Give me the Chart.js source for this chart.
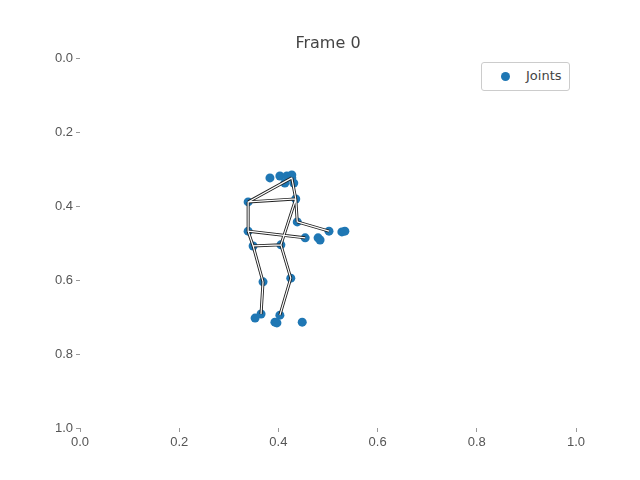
<!DOCTYPE html>
<html><head><meta charset="utf-8">
<script src="https://cdn.jsdelivr.net/npm/chart.js@4/dist/chart.umd.min.js"></script>
<style>
body{margin:0;background:#fff;font-family:"DejaVu Sans",sans-serif}
#wrap{position:relative;width:640px;height:480px}
#title{position:absolute;top:33px;left:0;width:656px;text-align:center;font-size:16px;color:#444}
#leg{position:absolute;left:481px;top:62px;width:87px;height:27px;border:1px solid #ccc;border-radius:3px;background:#fff;font-size:13px;color:#444}
#leg span.dot{position:absolute;left:19px;top:9px;width:9px;height:9px;border-radius:50%;background:#1f77b4}
#leg span.t{position:absolute;left:44px;top:5px}
</style></head><body>
<div id="wrap"><canvas id="c" width="640" height="480"></canvas>
<div id="title">Frame 0</div>
<div id="leg"><span class="dot"></span><span class="t">Joints</span></div></div>
<script>
// joint positions (x, y) for frame 0
const jointX = [0.383,0.403,0.417,0.427,0.413,0.431,0.427,0.339,0.435,0.438,0.502,0.528,0.534,0.339,0.454,0.480,0.484,0.349,0.405,0.369,0.425,0.365,0.353,0.403,0.393,0.397,0.448];
const jointY = [0.324,0.319,0.319,0.316,0.338,0.338,0.324,0.389,0.381,0.443,0.468,0.470,0.468,0.468,0.486,0.486,0.492,0.508,0.505,0.605,0.595,0.692,0.703,0.695,0.714,0.716,0.714];
// bones as index pairs
const bones = [[6,7],[6,8],[7,8],[7,13],[8,9],[9,10],[13,14],[13,17],[17,18],[18,8],[17,19],[19,21],[18,20],[20,23]];

const pts = jointX.map((x,i)=>({x, y: jointY[i]}));
const bonePts = [];
bones.forEach(([a,b]) => { bonePts.push(pts[a], pts[b], {x:null,y:null}); });

new Chart(document.getElementById('c'), {
  type: 'scatter',
  data: { datasets: [
    { data: bonePts, showLine: true, borderColor: '#fff', borderWidth: 1.2, pointRadius: 0, spanGaps: false, order: 0 },
    { data: bonePts, showLine: true, borderColor: '#222', borderWidth: 3, pointRadius: 0, spanGaps: false, order: 1 },
    { label: 'Joints', data: pts, backgroundColor: '#1f77b4', borderWidth: 0, pointRadius: 4.5, order: 2 }
  ]},
  options: {
    responsive: false, animation: false, events: [],
    layout: { padding: { left: 0, right: 64, top: 58, bottom: 0 } },
    plugins: { legend: { display: false }, tooltip: { enabled: false } },
    scales: {
      x: { min: 0, max: 1, afterFit: s => { s.height = 52; },
        grid: { drawOnChartArea: false, drawTicks: true, tickLength: 4, color: '#999' }, border: { display: false },
        ticks: { stepSize: 0.2, color: '#555', font: { size: 13 }, callback: v => v.toFixed(1) } },
      y: { min: 0, max: 1, reverse: true, afterFit: s => { s.width = 80; },
        grid: { drawOnChartArea: false, drawTicks: true, tickLength: 4, color: '#999' }, border: { display: false },
        ticks: { stepSize: 0.2, color: '#555', font: { size: 13 }, callback: v => v.toFixed(1) } }
    }
  }
});
</script></body></html>
